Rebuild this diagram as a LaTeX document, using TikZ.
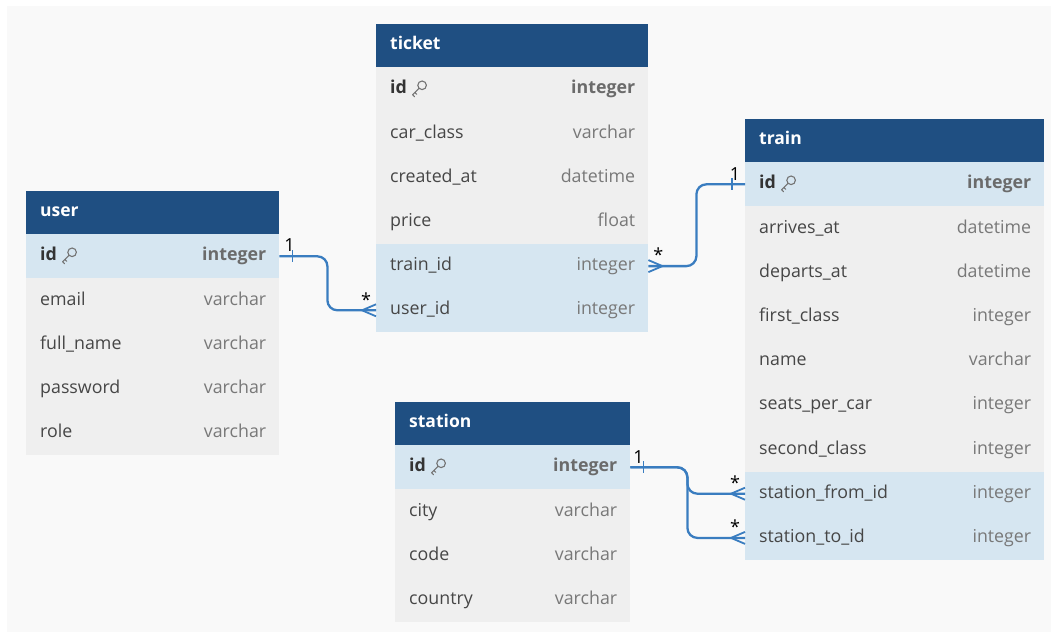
\documentclass[tikz,border=0pt]{standalone}
\usepackage{fontspec}
\setmainfont{Open Sans}
\usetikzlibrary{calc}
\definecolor{hdrblue}{RGB}{31,79,130}
\definecolor{keyrowc}{RGB}{214,230,241}
\definecolor{plainrowc}{RGB}{239,239,239}
\definecolor{bgc}{RGB}{249,249,249}
\definecolor{linkc}{RGB}{58,125,192}
\definecolor{fieldc}{RGB}{70,70,70}
\definecolor{typec}{RGB}{120,120,120}
\tikzset{
  rowbase/.style={rectangle, inner sep=0pt, minimum height=44.2pt, draw=none},
  plainrow/.style={rowbase, fill=plainrowc},
  keyrow/.style={rowbase, fill=keyrowc},
  hdrrow/.style={rowbase, fill=hdrblue, minimum height=43.5pt},
  hdrtxt/.style={inner sep=0pt, text=white, font=\fontsize{17.5}{20}\selectfont\bfseries, text height=13pt, text depth=4pt},
  fieldtxt/.style={inner sep=0pt, text=fieldc, font=\fontsize{17.8}{20}\selectfont, text height=13pt, text depth=4pt},
  typetxt/.style={inner sep=0pt, text=typec, font=\fontsize{17.8}{20}\selectfont, text height=13pt, text depth=4pt},
  link/.style={draw=linkc, line width=2.3pt, rounded corners=10pt},
  crow/.style={draw=linkc, line width=1.8pt},
  cardtxt/.style={inner sep=0pt, text=black, font=\fontsize{18}{20}\selectfont},
  keyicon/.pic={
    \draw[black!55, line width=1.1pt] (3,-3) circle (4.3pt);
    \draw[black!55, line width=1.1pt, line cap=round, line join=round] (0,0) -- (-6.5,6.5) -- (-4.5,8.5) (-4.2,4.2) -- (-2.4,6);
  }
}
\newcommand\erhead[5]{% name, x, y, width, title
  \node[hdrrow, minimum width=#4, anchor=north west] (#1) at (#2,#3) {};
  \node[hdrtxt, anchor=west] at ([xshift=14pt]#1.west) {#5};
}
\newcommand\errow[7]{% name, x, y, width, field, type, style
  \node[#7, minimum width=#4, anchor=north west] (#1) at (#2,#3) {};
  \node[fieldtxt, anchor=west] at ([xshift=14pt]#1.west) {#5};
  \node[typetxt, anchor=east] at ([xshift=-13pt]#1.east) {#6};
}
\newcommand\erkey[7]{% name, x, y, width, field, type, style (bold key row)
  \node[#7, minimum width=#4, anchor=north west] (#1) at (#2,#3) {};
  \node[fieldtxt, text=black!80, font=\fontsize{17.8}{20}\selectfont\bfseries, anchor=west] (#1-f) at ([xshift=14pt]#1.west) {#5};
  \node[typetxt, text=black!58, font=\fontsize{17.8}{20}\selectfont\bfseries, anchor=east] at ([xshift=-13pt]#1.east) {#6};
  \pic at ($(#1-f.east)+(12,-1)$) {keyicon};
}
\begin{document}
\begin{tikzpicture}[x=1pt, y=-1pt]
\useasboundingbox (0,0) rectangle (1054,635);
\fill[white] (0,0) rectangle (1054,635);
\fill[bgc] (7,6) rectangle (1051,632);

% user
\erhead{user}{26}{190.5}{253}{user}
\erkey{user-id}{26}{234}{253}{id}{integer}{keyrow}
\errow{user-email}{26}{278.2}{253}{email}{varchar}{plainrow}
\errow{user-fullname}{26}{322.4}{253}{full\_name}{varchar}{plainrow}
\errow{user-password}{26}{366.6}{253}{password}{varchar}{plainrow}
\errow{user-role}{26}{410.8}{253}{role}{varchar}{plainrow}

% ticket
\erhead{ticket}{376}{23.5}{272}{ticket}
\erkey{ticket-id}{376}{67}{272}{id}{integer}{plainrow}
\errow{ticket-carclass}{376}{111.2}{272}{car\_class}{varchar}{plainrow}
\errow{ticket-createdat}{376}{155.4}{272}{created\_at}{datetime}{plainrow}
\errow{ticket-price}{376}{199.6}{272}{price}{float}{plainrow}
\errow{ticket-trainid}{376}{243.8}{272}{train\_id}{integer}{keyrow}
\errow{ticket-userid}{376}{288}{272}{user\_id}{integer}{keyrow}

% train
\erhead{train}{745}{118.5}{299}{train}
\erkey{train-id}{745}{162}{299}{id}{integer}{keyrow}
\errow{train-arrivesat}{745}{206.2}{299}{arrives\_at}{datetime}{plainrow}
\errow{train-departsat}{745}{250.4}{299}{departs\_at}{datetime}{plainrow}
\errow{train-firstclass}{745}{294.6}{299}{first\_class}{integer}{plainrow}
\errow{train-name}{745}{338.8}{299}{name}{varchar}{plainrow}
\errow{train-seatspercar}{745}{383}{299}{seats\_per\_car}{integer}{plainrow}
\errow{train-secondclass}{745}{427.2}{299}{second\_class}{integer}{plainrow}
\errow{train-stationfrom}{745}{471.4}{299}{station\_from\_id}{integer}{keyrow}
\errow{train-stationto}{745}{515.6}{299}{station\_to\_id}{integer}{keyrow}

% station
\erhead{station}{395}{401.5}{235}{station}
\erkey{station-id}{395}{445}{235}{id}{integer}{keyrow}
\errow{station-city}{395}{489.2}{235}{city}{varchar}{plainrow}
\errow{station-code}{395}{533.4}{235}{code}{varchar}{plainrow}
\errow{station-country}{395}{577.6}{235}{country}{varchar}{plainrow}

% connector user.id -> ticket.user_id
\draw[link] (user-id.east) -- ++(48,0) |- (ticket-userid.west);
\draw[crow] ($(user-id.east)+(13,-6)$) -- ++(0,12);
\draw[crow] ($(ticket-userid.west)+(-14,0)$) -- ($(ticket-userid.west)+(0,-6)$)
            ($(ticket-userid.west)+(-14,0)$) -- ($(ticket-userid.west)+(0,6)$);
\node[cardtxt] (c1a) at ($(user-id.east)+(10,-11)$) {1};
\node[cardtxt] (c1b) at ($(ticket-userid.west)+(-10,-11)$) {*};

% connector ticket.train_id -> train.id
\draw[link] (ticket-trainid.east) -- ++(48,0) |- (train-id.west);
\draw[crow] ($(train-id.west)+(-13,-6)$) -- ++(0,12);
\draw[crow] ($(ticket-trainid.east)+(14,0)$) -- ($(ticket-trainid.east)+(0,-6)$)
            ($(ticket-trainid.east)+(14,0)$) -- ($(ticket-trainid.east)+(0,6)$);
\node[cardtxt] (c2a) at ($(train-id.west)+(-10,-10)$) {1};
\node[cardtxt] (c2b) at ($(ticket-trainid.east)+(10,-11)$) {*};

% connectors station.id -> train.station_from_id / station_to_id
\draw[link] (station-id.east) -- ++(57,0) |- (train-stationfrom.west);
\draw[link] (station-id.east) -- ++(57,0) |- (train-stationto.west);
\draw[crow] ($(station-id.east)+(13,-6)$) -- ++(0,12);
\foreach \t in {train-stationfrom, train-stationto}{
  \draw[crow] ($(\t.west)+(-14,0)$) -- ($(\t.west)+(0,-6)$)
              ($(\t.west)+(-14,0)$) -- ($(\t.west)+(0,6)$);
  \node[cardtxt] at ($(\t.west)+(-10,-11)$) {*};
}
\node[cardtxt] (c3a) at ($(station-id.east)+(8,-10)$) {1};
\end{tikzpicture}
\end{document}
